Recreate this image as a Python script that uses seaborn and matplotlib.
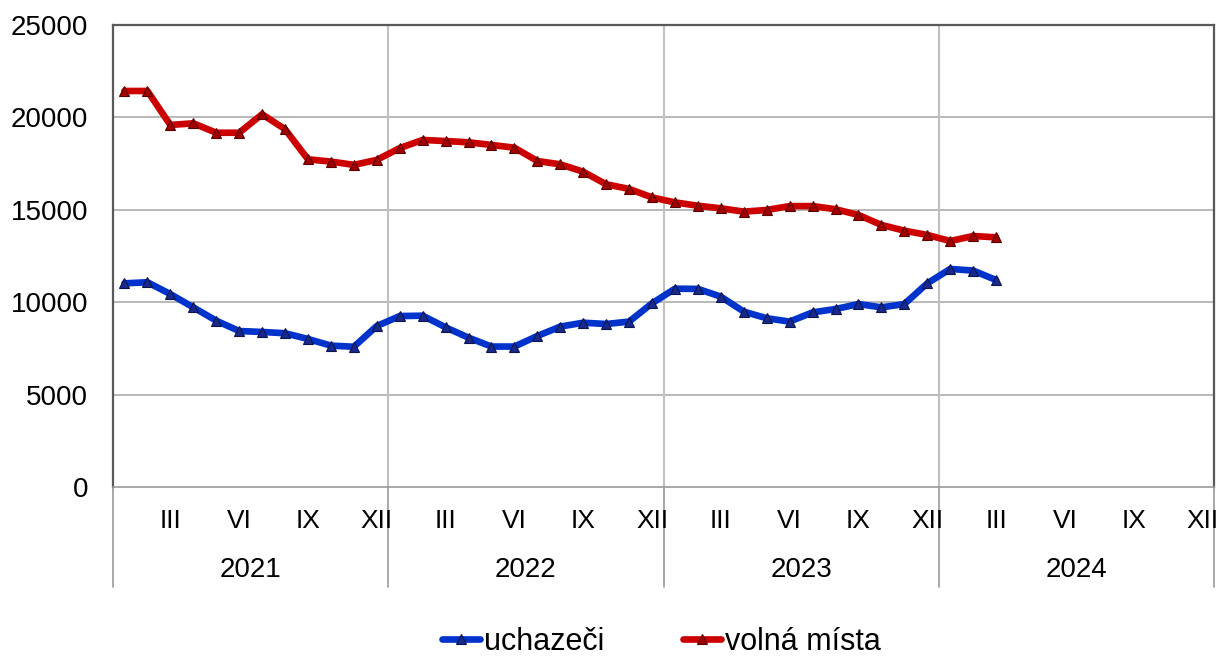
import matplotlib
matplotlib.use("Agg")
import matplotlib.pyplot as plt
import seaborn as sns
import pandas as pd
import numpy as np

# ---- data ----
years = ["2021", "2022", "2023", "2024"]
month_labels = ["III", "VI", "IX", "XII"]
series_names = ["uchazeči", "volná místa"]
uchazeci = [11020, 11080, 10440, 9720, 9000, 8440, 8390, 8320, 8010, 7650, 7590, 8710,
            9250, 9270, 8640, 8080, 7600, 7600, 8170, 8680, 8890, 8820, 8950, 9940,
            10730, 10720, 10300, 9490, 9130, 8950, 9450, 9630, 9900, 9720, 9900, 11020,
            11800, 11710, 11200]
volna_mista = [21430, 21430, 19590, 19680, 19170, 19170, 20170, 19360, 17730, 17610, 17430, 17700,
               18340, 18780, 18720, 18650, 18510, 18360, 17640, 17460, 17060, 16380, 16130, 15670,
               15400, 15220, 15080, 14900, 14990, 15200, 15200, 15030, 14720, 14180, 13870, 13640,
               13310, 13580, 13510]

sns.set_theme(style="white")
plt.rcParams["font.family"] = ["Liberation Sans", "DejaVu Sans"]

fig = plt.figure(figsize=(12.18, 6.56), dpi=100)
ax = fig.add_axes([113 / 1218, (656 - 487) / 656, (1214 - 113) / 1218, (487 - 25) / 656])

df = pd.DataFrame({
    "month": list(range(len(uchazeci))) + list(range(len(volna_mista))),
    "value": uchazeci + volna_mista,
    "series": [series_names[0]] * len(uchazeci) + [series_names[1]] * len(volna_mista),
})

styles = {
    series_names[0]: dict(color="#0033cc", mfc="#1a2a8a", mec="#0a1450"),
    series_names[1]: dict(color="#cc0000", mfc="#a00000", mec="#5a0000"),
}
for name in series_names:
    st = styles[name]
    sns.lineplot(data=df[df["series"] == name], x="month", y="value", ax=ax,
                 color=st["color"], linewidth=4.8, marker="^", markersize=7,
                 markerfacecolor=st["mfc"], markeredgecolor=st["mec"],
                 markeredgewidth=0.8, label=name, zorder=3)

n_months = 12 * len(years)
ax.set_xlim(-0.5, n_months - 0.5)
ax.set_ylim(0, 25000)
ax.set_yticks(np.arange(0, 25001, 5000))
ax.set_yticklabels([str(v) for v in range(0, 25001, 5000)], fontsize=20, color="#000000")
ax.tick_params(axis="y", length=0, pad=18)
ax.set_xticks([])
ax.set_xlabel("")
ax.set_ylabel("")

# gridlines
for v in range(5000, 25000, 5000):
    ax.axhline(v, color="#a6a6a6", linewidth=1.1, zorder=1)
for k in range(1, len(years)):
    ax.axvline(12 * k - 0.5, color="#c0c0c0", linewidth=1.5, zorder=1)

for s in ["top", "right", "left"]:
    ax.spines[s].set_color("#595959")
    ax.spines[s].set_linewidth(1.6)
ax.spines["bottom"].set_color("#999999")
ax.spines["bottom"].set_linewidth(1.2)

# category axis labels
trans = ax.get_xaxis_transform()
for yi, yr in enumerate(years):
    for mi, ml in enumerate(month_labels):
        ax.text(12 * yi + 3 * mi + 2, -34 / 462, ml, transform=trans, ha="center",
                va="center", fontsize=19, color="#000000")
    ax.text(12 * yi + 5.5, -83 / 462, yr, transform=trans, ha="center", va="center",
            fontsize=20, color="#000000")
for k in range(len(years) + 1):
    ax.plot([12 * k - 0.5, 12 * k - 0.5], [0, -100 / 462], transform=trans,
            color="#999999", linewidth=1.2, clip_on=False)

ax.legend_.remove()
handles, labels = ax.get_legend_handles_labels()
fig.legend(handles, labels, loc="center", bbox_to_anchor=(0.543, 0.022), ncol=2,
           frameon=False, fontsize=22, handlelength=1.25, handletextpad=0.12,
           columnspacing=2.6, labelcolor="#000000")

fig.savefig("out.png", dpi=100, facecolor="white")
